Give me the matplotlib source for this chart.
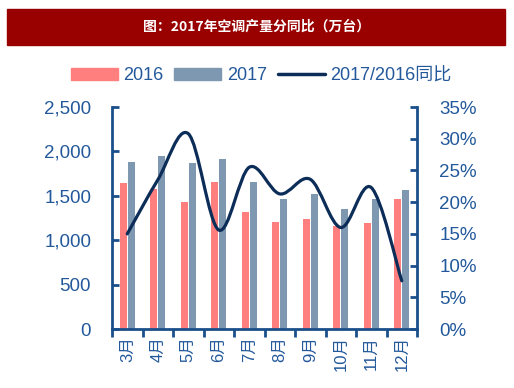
import numpy as np
import matplotlib
matplotlib.use('Agg')
import matplotlib.pyplot as plt
from matplotlib.path import Path
from matplotlib.patches import PathPatch, Rectangle, Patch
from matplotlib.lines import Line2D
from matplotlib.ticker import FuncFormatter, FixedLocator

plt.rcParams['font.family'] = ['Liberation Sans', 'Noto Sans CJK SC']

# data
months = ['3月', '4月', '5月', '6月', '7月', '8月', '9月', '10月', '11月', '12月']
prod_2016 = [1640, 1580, 1430, 1660, 1320, 1200, 1235, 1160, 1190, 1460]
prod_2017 = [1880, 1950, 1870, 1915, 1660, 1460, 1520, 1350, 1460, 1570]
yoy = [15.0, 23.5, 30.8, 15.6, 25.5, 21.3, 23.6, 16.0, 22.3, 7.6]

c2016 = '#FF7F7F'
c2017 = '#7F98B2'
cline = '#0C2D57'
cspine = '#1B4F8A'
ctext = '#23599B'

fig = plt.figure(figsize=(5.14, 3.88), dpi=100)

# title banner
fig.patches.append(Rectangle((7 / 514, 1 - 45 / 388), 498 / 514, 36 / 388,
                             transform=fig.transFigure, color='#990000', zorder=0))
fig.text(0.5, 1 - 27 / 388, '图：2017年空调产量分同比（万台）', color='white',
         fontsize=10, fontweight='bold', ha='center', va='center',
         family=['Noto Sans CJK SC'])

ax = fig.add_axes([112 / 514, 59 / 388, 305 / 514, 222 / 388])
x = np.arange(len(months))
w = 0.23
ax.bar(x - 0.135, prod_2016, w, color=c2016, zorder=2)
ax.bar(x + 0.135, prod_2017, w, color=c2017, zorder=2)
ax.set_xlim(-0.5, len(months) - 0.5)
ax.set_ylim(0, 2500)
ax.set_yticks(range(0, 2501, 500))
ax.yaxis.set_major_formatter(FuncFormatter(lambda v, p: f'{int(v):,}'))

ax.xaxis.set_major_locator(FixedLocator(np.arange(-0.5, len(months), 1)))
ax.xaxis.set_minor_locator(FixedLocator(x))
ax.set_xticklabels([], minor=False)
ax.set_xticklabels(months, minor=True, rotation=90)
ax.tick_params(axis='x', which='major', direction='out', length=6, width=2, color=cspine)
ax.tick_params(axis='x', which='minor', length=0, labelsize=12, labelcolor=ctext, pad=5)
ax.tick_params(axis='y', direction='in', length=5, width=2, color=cspine,
               labelsize=13.5, labelcolor=ctext, pad=15)

for s in ['top', 'right']:
    ax.spines[s].set_visible(False)
for s in ['left', 'bottom']:
    ax.spines[s].set_color(cspine)
    ax.spines[s].set_linewidth(2)

ax2 = ax.twinx()
ax2.set_ylim(0, 35)
ax2.set_yticks(range(0, 36, 5))
ax2.yaxis.set_major_formatter(FuncFormatter(lambda v, p: f'{int(v)}%'))
ax2.tick_params(axis='y', direction='in', length=5, width=2, color=cspine,
                labelsize=13.5, labelcolor=ctext, pad=16)
for s in ['top', 'left', 'bottom']:
    ax2.spines[s].set_visible(False)
ax2.spines['right'].set_color(cspine)
ax2.spines['right'].set_linewidth(2)

# smoothed line (Catmull-Rom drawn as cubic bezier path)
pts = np.column_stack([x, yoy]).astype(float)
verts = [tuple(pts[0])]
codes = [Path.MOVETO]
n = len(pts)
for i in range(n - 1):
    p0 = pts[i - 1] if i > 0 else pts[i]
    p1 = pts[i]
    p2 = pts[i + 1]
    p3 = pts[i + 2] if i + 2 < n else pts[i + 1]
    c1 = p1 + (p2 - p0) / 6
    c2 = p2 - (p3 - p1) / 6
    verts += [tuple(c1), tuple(c2), tuple(p2)]
    codes += [Path.CURVE4] * 3
ax2.add_patch(PathPatch(Path(verts, codes), fill=False, edgecolor=cline,
                        linewidth=2.3, capstyle='round', zorder=3))

handles = [Patch(color=c2016), Patch(color=c2017),
           Line2D([], [], color=cline, linewidth=2.5, solid_capstyle='round')]
fig.legend(handles, ['2016', '2017', '2017/2016同比'], loc='center',
           bbox_to_anchor=(0.508, 1 - 76 / 388), ncol=3, frameon=False,
           fontsize=13, labelcolor=ctext, handlelength=2.6, handleheight=0.6,
           handletextpad=0.3, columnspacing=0.6)

fig.savefig('out.png', dpi=100)
